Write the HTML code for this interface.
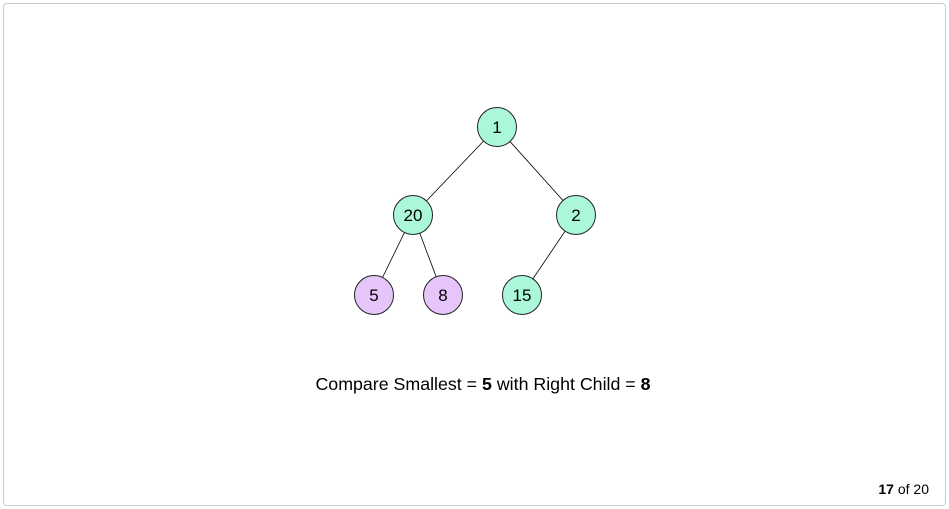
<!DOCTYPE html>
<html><head><style>
body{margin:0;width:949px;height:509px;background:#fff;font-family:"Liberation Sans",sans-serif;}
.frame{position:absolute;left:3px;top:3px;width:943px;height:503px;border:1px solid #ccc;border-radius:4px;box-sizing:border-box;}
</style></head><body>
<div class="frame"></div>
<svg width="949" height="509" style="position:absolute;left:0;top:0">
<g stroke="#000" stroke-width="0.8">
<line x1="497" y1="127" x2="413" y2="215"/>
<line x1="497" y1="127" x2="576" y2="215"/>
<line x1="413" y1="215" x2="374" y2="295"/>
<line x1="413" y1="215" x2="443" y2="295"/>
<line x1="576" y1="215" x2="522" y2="295"/>
</g>
<g stroke="#222" stroke-width="1" font-size="17" text-anchor="middle" font-family="Liberation Sans, sans-serif">
<circle cx="497" cy="127" r="19.5" fill="#aaf7da"/>
<circle cx="413" cy="215" r="19.5" fill="#aaf7da"/>
<circle cx="576" cy="215" r="19.5" fill="#aaf7da"/>
<circle cx="374" cy="295" r="19.5" fill="#e6c6fa"/>
<circle cx="443" cy="295" r="19.5" fill="#e6c6fa"/>
<circle cx="522" cy="295" r="19.5" fill="#aaf7da"/>
<g stroke="none" fill="#000">
<text x="497" y="133">1</text>
<text x="413" y="221">20</text>
<text x="576" y="221">2</text>
<text x="374" y="301">5</text>
<text x="443" y="301">8</text>
<text x="522" y="301">15</text>
</g>
</g>
<text x="483" y="390" text-anchor="middle" font-size="17.8" font-family="Liberation Sans, sans-serif">Compare Smallest = <tspan font-weight="bold">5</tspan> with Right Child = <tspan font-weight="bold">8</tspan></text>
<text x="929" y="494" text-anchor="end" font-size="14" font-family="Liberation Sans, sans-serif"><tspan font-weight="bold">17</tspan> of 20</text>
</svg>
</body></html>
